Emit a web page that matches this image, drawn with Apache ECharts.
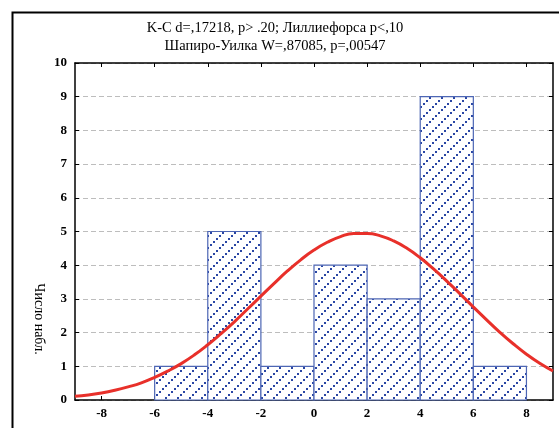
<!DOCTYPE html>
<html>
<head>
<meta charset="utf-8">
<script src="https://cdn.jsdelivr.net/npm/echarts@6/dist/echarts.min.js"></script>
<style>
  html, body { margin: 0; padding: 0; background: #fff; }
  #chart { width: 559px; height: 428px; }
</style>
</head>
<body>
<div id="chart"></div>
<script>
// Histogram bins (left edge) and observed counts
var binStarts = [-6, -4, -2, 0, 2, 4, 6];
var binWidth = 2;
var counts = [1, 5, 1, 4, 3, 9, 1];

// Expected normal curve, sampled every half unit
var curveX = [-9, -8.5, -8, -7.5, -7, -6.5, -6, -5.5, -5, -4.5, -4, -3.5, -3, -2.5, -2, -1.5, -1, -0.5,
              0, 0.5, 1, 1.5, 2, 2.5, 3, 3.5, 4, 4.5, 5, 5.5, 6, 6.5, 7, 7.5, 8, 8.5, 9];
var curveY = [0.11, 0.15, 0.21, 0.29, 0.39, 0.51, 0.67, 0.86, 1.08, 1.34, 1.64, 1.97, 2.32, 2.70, 3.08, 3.46, 3.83, 4.16,
              4.45, 4.68, 4.85, 4.94, 4.94, 4.87, 4.72, 4.50, 4.22, 3.89, 3.53, 3.15, 2.76, 2.38, 2.01, 1.67, 1.36, 1.09, 0.86];

// Tick labels and captions
var xTicks = [-8, -6, -4, -2, 0, 2, 4, 6, 8];
var titleLines = ['K-C d=,17218, p> .20; Лиллиефорса p<,10', 'Шапиро-Уилка W=,87085, p=,00547'];
var yName = 'Число набл.';

// Diagonal dotted hatch used to fill the bars
function makeHatch() {
  var n = 12;
  var c = document.createElement('canvas');
  c.width = n; c.height = n;
  var g = c.getContext('2d');
  g.fillStyle = '#ffffff';
  g.fillRect(0, 0, n, n);
  g.fillStyle = '#2a46a4';
  for (var i = 0; i < 4; i++) {
    g.fillRect(i * 3, n - 2 - i * 3, 2, 2);
  }
  return c;
}
var hatch = { image: makeHatch(), repeat: 'repeat' };

var barData = binStarts.map(function (s, i) { return [s, s + binWidth, counts[i]]; });
var lineData = curveX.map(function (x, i) { return [x, curveY[i]]; });

var serif = 'Liberation Serif';
var chart = echarts.init(document.getElementById('chart'), null, { renderer: 'canvas' });

var axisLine = { show: true, onZero: false, lineStyle: { color: '#000', width: 1.5 } };
var tickStyle = { color: '#000', width: 1 };

chart.setOption({
  animation: false,
  backgroundColor: '#fff',
  graphic: [
    { type: 'rect', left: 10, top: 10, shape: { width: 560, height: 430 },
      style: { fill: 'none', stroke: '#000', lineWidth: 2 }, silent: true },
    { type: 'text', x: 275, y: 28,
      style: { text: titleLines[0], font: '14.5px "Liberation Serif"', fill: '#000', align: 'center', verticalAlign: 'middle' } },
    { type: 'text', x: 275, y: 46,
      style: { text: titleLines[1], font: '14.5px "Liberation Serif"', fill: '#000', align: 'center', verticalAlign: 'middle' } },
    { type: 'text', x: 39, y: 319, rotation: -Math.PI / 2,
      style: { text: yName, font: '14px "Liberation Serif"', fill: '#000', align: 'center', verticalAlign: 'middle' } }
  ],
  grid: { left: 75, top: 63, right: 6, bottom: 28, containLabel: false },
  xAxis: [
    {
      type: 'value', min: -9, max: 9, position: 'bottom',
      axisLine: axisLine,
      axisTick: { show: true, inside: true, length: 4, customValues: xTicks, lineStyle: tickStyle },
      axisLabel: { customValues: xTicks, fontFamily: serif, fontWeight: 'bold', fontSize: 13, color: '#000', margin: 7 },
      splitLine: { show: false }
    },
    {
      type: 'value', min: -9, max: 9, position: 'top',
      axisLine: axisLine,
      axisTick: { show: true, inside: true, length: 4, customValues: xTicks, lineStyle: tickStyle },
      axisLabel: { show: false },
      splitLine: { show: false }
    }
  ],
  yAxis: [
    {
      type: 'value', min: 0, max: 10, interval: 1, position: 'left',
      axisLine: axisLine,
      axisTick: { show: true, inside: true, length: 4, lineStyle: tickStyle },
      axisLabel: { fontFamily: serif, fontWeight: 'bold', fontSize: 13, color: '#000', margin: 8 },
      splitLine: { show: true, lineStyle: { color: '#bdbdbd', type: [5, 3], width: 1 } }
    },
    {
      type: 'value', min: 0, max: 10, interval: 1, position: 'right',
      axisLine: axisLine,
      axisTick: { show: true, inside: true, length: 4, lineStyle: tickStyle },
      axisLabel: { show: false },
      splitLine: { show: false }
    }
  ],
  series: [
    {
      type: 'custom',
      xAxisIndex: 0, yAxisIndex: 0,
      data: barData,
      renderItem: function (params, api) {
        var p0 = api.coord([api.value(0), api.value(2)]);
        var p1 = api.coord([api.value(1), 0]);
        return {
          type: 'rect',
          shape: { x: p0[0], y: p0[1], width: p1[0] - p0[0], height: p1[1] - p0[1] },
          style: { fill: hatch, stroke: '#4d66b4', lineWidth: 1.2 }
        };
      },
      z: 2
    },
    {
      type: 'line',
      xAxisIndex: 0, yAxisIndex: 0,
      data: lineData,
      smooth: true,
      showSymbol: false,
      clip: true,
      lineStyle: { color: '#e8302a', width: 3 },
      z: 3
    }
  ]
});
</script>
</body>
</html>
